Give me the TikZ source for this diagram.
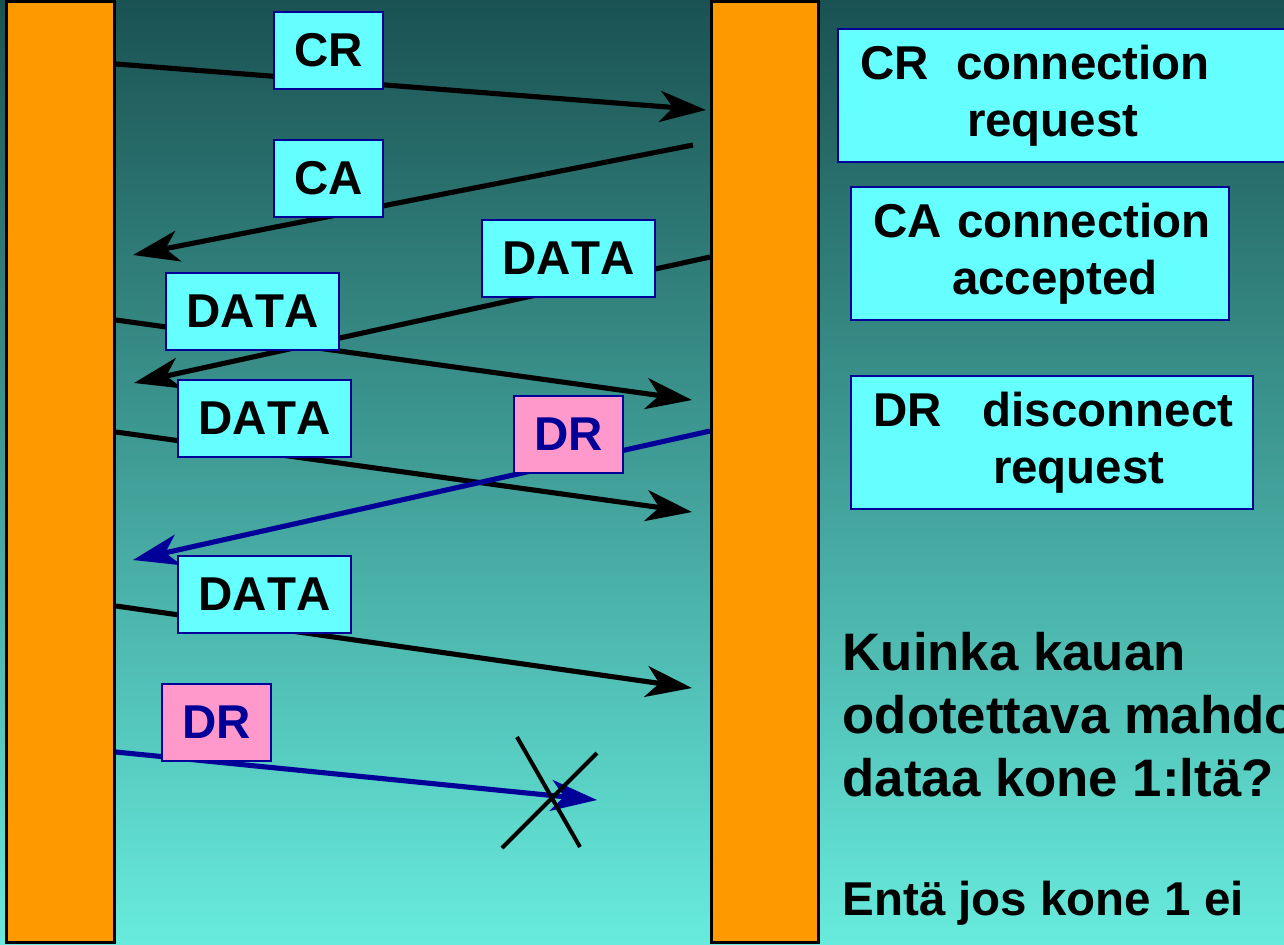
\documentclass[tikz,border=0pt]{standalone}
\usepackage{fontspec}
\setmainfont{Liberation Sans}[Kerning=Off]
\usepackage{tikz}
\usetikzlibrary{arrows.meta}
\definecolor{MsgCyan}{HTML}{66FFFF}
\definecolor{MsgPink}{HTML}{FF99CC}
\definecolor{MsgBlue}{HTML}{000099}
\definecolor{HostOrange}{HTML}{FF9900}
\definecolor{BgTop}{HTML}{1A5252}
\definecolor{BgBottom}{HTML}{67EBDD}
\tikzset{%
  HostStyle/.style={draw=black,line width=0.85pt,fill=HostOrange,minimum width=1.08cm,minimum height=9.4cm,inner sep=0pt},
  MsgStyle/.style={draw=MsgBlue,line width=0.57pt,fill=MsgCyan,minimum height=0.77cm,inner xsep=2.05mm,inner ysep=0pt,font=\fontsize{13.5}{16}\selectfont\bfseries},
  DiscStyle/.style={MsgStyle,fill=MsgPink,text=MsgBlue},
  KeyStyle/.style={draw=MsgBlue,line width=0.57pt,fill=MsgCyan,anchor=north west,align=left,inner xsep=2.2mm,minimum height=1.33cm,font=\fontsize{13.5}{16.2}\selectfont\bfseries},
  QuestStyle/.style={align=left,inner sep=0pt,font=\fontsize{15}{17.9}\selectfont\bfseries},
  ArrowStyle/.style={line width=1.45pt,-{Stealth[length=4.6mm,width=3.1mm,inset=1.3mm]}}
}

\begin{document}
\begin{tikzpicture}[x=0.01cm,y=-0.01cm]
  \useasboundingbox (0,0) rectangle (1284,944);
  \begin{scope}
    \clip (0,0) rectangle (1284,944);
    \shade[top color=BgTop,bottom color=BgBottom] (0,0) rectangle (1284,944);
    \node[HostStyle] (hostA) at (60.5,472) {};
    \node[HostStyle,minimum width=1.07cm] (hostB) at (765,472) {};
    \foreach \sx/\sy/\ex/\ey/\col [count=\xi] in {
      116/64/706/110/black, 693/145/133/255/black, 710/257/134/383/black,
      116/320/692/400/black, 116/432/692/512/black, 710/431/133/560/MsgBlue,
      116/606/692/688/black, 116/752/597/800/MsgBlue}{
      \coordinate (s\xi) at (\sx,\sy);
      \coordinate (e\xi) at (\ex,\ey);
      \draw[ArrowStyle,draw=\col,fill=\col] (s\xi) -- (e\xi);
    }
    \foreach \lx/\ly/\txt [count=\xi] in {
      328.5/50.5/CR, 328.5/178.5/CA, 568.5/258.5/DATA,
      252.5/311.5/DATA, 264.5/418.5/DATA, 264.5/594.5/DATA}{
      \node[MsgStyle] (m\xi) at (\lx,\ly) {\txt};}
    \node[DiscStyle] (d1) at (568.5,434.5) {DR};
    \node[DiscStyle] (d2) at (216.5,722.5) {DR};
    \draw[line width=1.15pt] (517,737) -- (580,847) (597,753) -- (502,848);
    \node[KeyStyle,text width=4.2cm] (keyCR) at (837,28)
      {\mbox{CR\hspace{0.28cm}connection}\\\hspace*{1.07cm}request};
    \node[KeyStyle,text width=3.34cm] (keyCA) at (850,186)
      {\mbox{CA connection}\\\hspace*{0.79cm}accepted};
    \node[KeyStyle,text width=3.58cm] (keyDR) at (850,375)
      {\mbox{DR\hspace{0.41cm}disconnect}\\\hspace*{1.2cm}request};
    \node[QuestStyle,anchor=north west] (wait) at (842,632)
      {Kuinka kauan\\odotettava mahdollista\\dataa kone 1:ltä?};
    \node[QuestStyle,anchor=base west,font=\fontsize{13.5}{16.2}\selectfont\bfseries]
      (lost) at (842,915) {Entä jos kone 1 ei};
  \end{scope}
\end{tikzpicture}
\end{document}
